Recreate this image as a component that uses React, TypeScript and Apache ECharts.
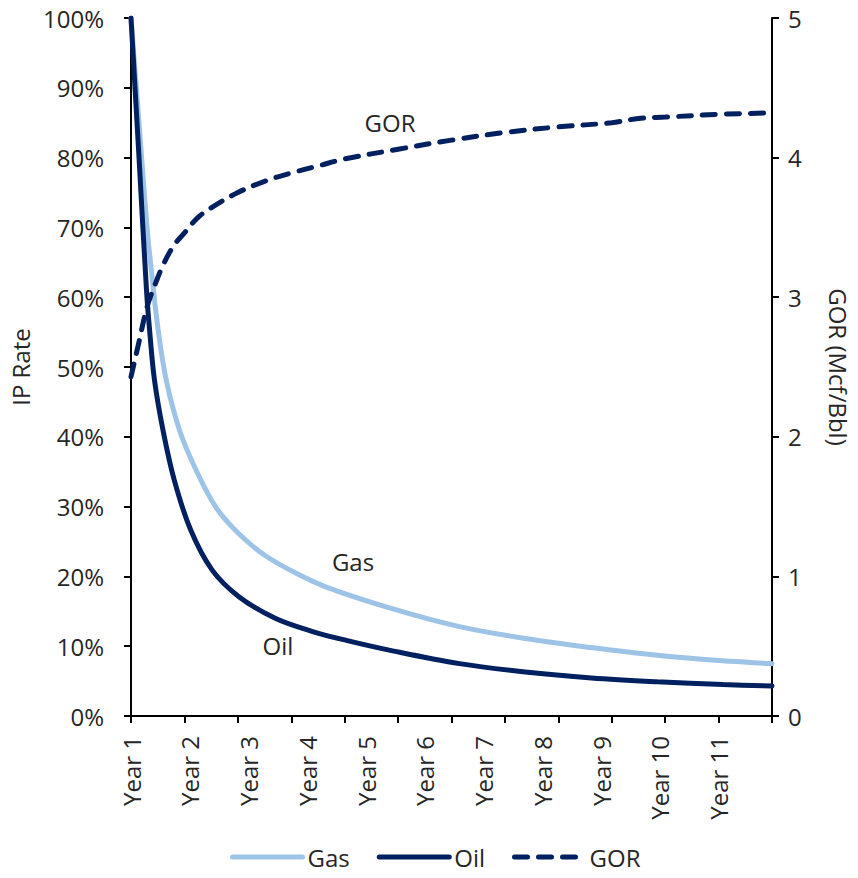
import React, { useEffect, useRef } from 'react';
import * as echarts from 'echarts';

// time since first production, in years
const gasYears = [0, 0.15, 0.3, 0.4, 0.51, 0.66, 0.91, 1.22, 1.59, 2.02, 2.51, 3.13, 3.68, 4.92, 6.15, 7.38, 8.62, 9.85, 11.08, 12];
// gas rate, % of IP
const gasPct = [100, 85, 70, 62.5, 55.2, 48.1, 40.9, 35.2, 29.9, 26.1, 23.0, 20.3, 18.4, 15.3, 12.8, 11.1, 9.8, 8.7, 7.9, 7.5];

const oilYears = [0, 0.15, 0.29, 0.35, 0.44, 0.6, 0.81, 1.12, 1.52, 2.02, 2.7, 3.4, 4.05, 4.92, 6.15, 7.38, 8.62, 9.85, 11.08, 12];
// oil rate, % of IP
const oilPct = [100, 80, 61, 55.1, 48.1, 40.9, 33.8, 26.6, 20.9, 17.1, 14.0, 12.1, 10.8, 9.3, 7.5, 6.3, 5.45, 4.9, 4.5, 4.3];

const gorYears = [0, 0.15, 0.3, 0.45, 0.6, 0.8, 1, 1.25, 1.5, 2, 2.5, 3, 3.5, 4, 5, 6, 7, 8, 9, 9.5, 10, 11, 12];
// gas-oil ratio, Mcf/Bbl
const gor = [2.43, 2.68, 2.93, 3.09, 3.23, 3.37, 3.46, 3.57, 3.64, 3.75, 3.83, 3.89, 3.94, 3.99, 4.06, 4.125, 4.18, 4.22, 4.25, 4.28, 4.29, 4.31, 4.32];

const yearLabels = ['Year 1', 'Year 2', 'Year 3', 'Year 4', 'Year 5', 'Year 6', 'Year 7', 'Year 8', 'Year 9', 'Year 10', 'Year 11'];
const seriesNames = ['Gas', 'Oil', 'GOR'];

const FONT = '"Open Sans", "Noto Sans", sans-serif';
const TEXT = '#262626';
const GAS = '#9DC3E6';
const NAVY = '#002060';
const FS = 24;

export default function App() {
  const ref = useRef<HTMLDivElement>(null);
  useEffect(() => {
    const chart = echarts.init(ref.current!, null, { renderer: 'svg' });
    const axisLine = { show: true, onZero: false, lineStyle: { color: '#000', width: 2 } };
    const axisTick = { show: true, length: 7, inside: false, lineStyle: { color: '#000', width: 2 } };
    const labelStyle = { fontFamily: FONT, fontSize: FS, color: TEXT };
    const pairs = (xs: number[], ys: number[]) => xs.map((t, i) => [t, ys[i]]);
    chart.setOption({
      animation: false,
      backgroundColor: '#fff',
      grid: { left: 131, right: 78, top: 18, bottom: 162, containLabel: false },
      xAxis: [
        {
          type: 'value', min: 0, max: 12, interval: 1,
          axisLine, axisTick, axisLabel: { show: false }, splitLine: { show: false },
        },
        {
          type: 'value', min: 0, max: 12, interval: 1.1, position: 'bottom',
          axisLine: { show: false }, axisTick: { show: false }, splitLine: { show: false },
          axisLabel: {
            ...labelStyle, rotate: 90, margin: 20,
            showMaxLabel: false,
            formatter: (_v: number, i: number) => yearLabels[i] ?? '',
          },
        },
      ],
      yAxis: [
        {
          type: 'value', min: 0, max: 100, interval: 10, position: 'left',
          axisLine, axisTick, splitLine: { show: false },
          axisLabel: { ...labelStyle, margin: 27, formatter: '{value}%' },
          name: 'IP Rate', nameLocation: 'middle', nameGap: 99, nameRotate: 90,
          nameTextStyle: { ...labelStyle },
        },
        {
          type: 'value', min: 0, max: 5, interval: 1, position: 'right',
          axisLine, axisTick, splitLine: { show: false },
          axisLabel: { ...labelStyle, margin: 16 },
          name: 'GOR (Mcf/Bbl)', nameLocation: 'middle', nameGap: 54, nameRotate: -90,
          nameTextStyle: { ...labelStyle },
        },
      ],
      legend: {
        data: seriesNames, bottom: 4, left: 225,
        itemWidth: 70, itemHeight: 14, itemGap: 27,
        itemStyle: { opacity: 0 },
        lineStyle: { width: 5, cap: 'round' },
        textStyle: { ...labelStyle },
      },
      series: [
        {
          name: 'Gas', type: 'line', xAxisIndex: 0, yAxisIndex: 0,
          data: pairs(gasYears, gasPct),
          symbol: 'none', smooth: 0.35,
          lineStyle: { color: GAS, width: 5, cap: 'round' }, itemStyle: { color: GAS },
        },
        {
          name: 'Oil', type: 'line', xAxisIndex: 0, yAxisIndex: 0,
          data: pairs(oilYears, oilPct),
          symbol: 'none', smooth: 0.35,
          lineStyle: { color: NAVY, width: 5, cap: 'round' }, itemStyle: { color: NAVY },
        },
        {
          name: 'GOR', type: 'line', xAxisIndex: 0, yAxisIndex: 1,
          data: pairs(gorYears, gor),
          symbol: 'none', smooth: 0.35,
          lineStyle: { color: NAVY, width: 5, type: [13, 11], cap: 'round' }, itemStyle: { color: NAVY },
        },
      ],
      graphic: [
        { type: 'text', x: 390, y: 122, style: { text: 'GOR', fill: TEXT, fontFamily: FONT, fontSize: FS, textAlign: 'center', textVerticalAlign: 'middle' } },
        { type: 'text', x: 353, y: 561, style: { text: 'Gas', fill: TEXT, fontFamily: FONT, fontSize: FS, textAlign: 'center', textVerticalAlign: 'middle' } },
        { type: 'text', x: 278, y: 645, style: { text: 'Oil', fill: TEXT, fontFamily: FONT, fontSize: FS, textAlign: 'center', textVerticalAlign: 'middle' } },
      ],
    });
    return () => chart.dispose();
  }, []);
  return <div ref={ref} style={{ position: 'absolute', left: 0, top: 0, width: 858, height: 878 }} />;
}
